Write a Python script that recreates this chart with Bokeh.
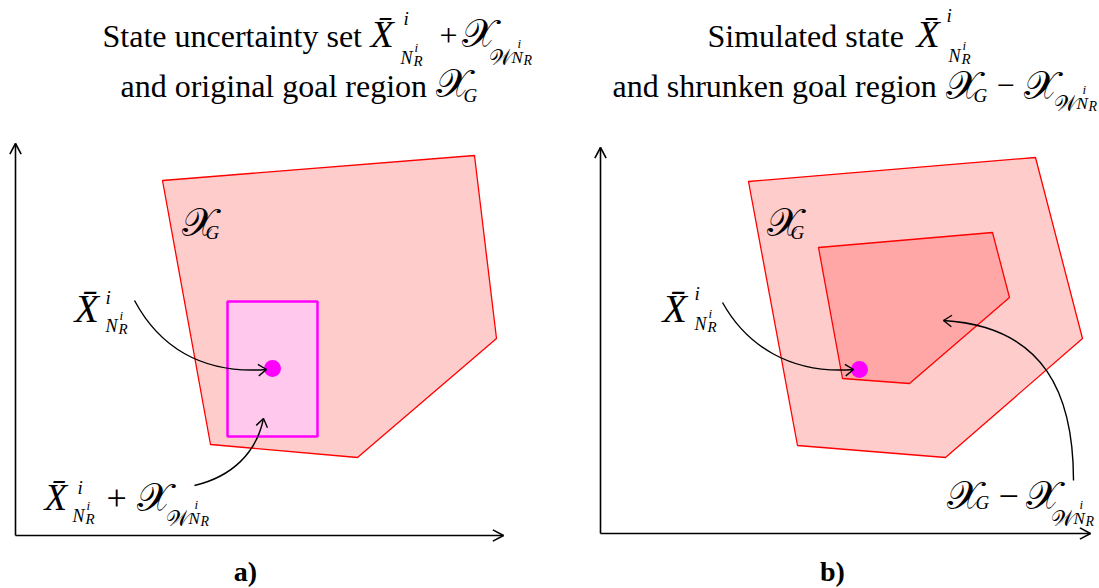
import numpy as np
from bokeh.plotting import figure
from bokeh.models import Range1d, ColumnDataSource
from bokeh.core.properties import value
from bokeh.embed import file_html
from bokeh.resources import INLINE

W, H = 1099, 588

# ---------------- data (pixel layout of the diagram) ----------------
panel_names = ["a)", "b)"]
panel_label_x = [245, 832]
axis_x = [15, 600]          # vertical axis position
axis_y = [535, 533]         # horizontal axis position
axis_top = [143, 147]       # tip of vertical arrow
axis_right = [503, 1090]    # tip of horizontal arrow

goal_left_x = [162, 474, 496, 357, 210]
goal_left_y = [180, 155, 338, 457, 444]
goal_right_x = [748, 1035, 1082, 945, 797]
goal_right_y = [181, 157, 338, 457, 445]
shrunk_x = [818, 992, 1009, 909, 842]
shrunk_y = [247, 232, 297, 383, 378]

box_x = [227, 317]
box_y = [301, 436]
state_x = [272, 859]
state_y = [368, 369]

# curved arrows: start, control1, control2, end
curve_p0 = [(134, 300), (194, 485), (722, 302), (1073, 480)]
curve_c1 = [(158, 345), (232, 476), (746, 345), (1073, 395)]
curve_c2 = [(200, 374), (256, 452), (790, 374), (1045, 326)]
curve_p3 = [(266, 369), (263, 418), (853, 369), (943, 320)]

SERIF = "Liberation Serif"
SCRIPT = "Liberation Serif"

# ---------------- figure ----------------
p = figure(width=W, height=H, x_range=Range1d(0, W), y_range=Range1d(H, 0),
           output_backend="svg", toolbar_location=None, min_border=0)
p.axis.visible = False
p.grid.visible = False
p.outline_line_color = None
p.background_fill_color = "white"
p.border_fill_color = "white"

# polygons
p.patch(goal_left_x, goal_left_y, fill_color="#FFCCCC", line_color="#FF0000", line_width=1.3)
p.patch(goal_right_x, goal_right_y, fill_color="#FFCCCC", line_color="#FF0000", line_width=1.3)
p.patch(shrunk_x, shrunk_y, fill_color="#FFA6A6", line_color="#FF0000", line_width=1.3)
p.quad(left=[box_x[0]], right=[box_x[1]], top=[box_y[0]], bottom=[box_y[1]],
       fill_color="#FFC8EC", line_color="#FF00FF", line_width=2.5)
p.scatter(state_x, state_y, size=17, color="#FF00FF", line_color=None)

# axes with open arrow heads
def head(tip, d, L=12, ang=28):
    d = np.asarray(d, float); d = d / np.linalg.norm(d)
    out = []
    for s in (1, -1):
        a = np.radians(ang) * s
        r = np.array([d[0]*np.cos(a) - d[1]*np.sin(a), d[0]*np.sin(a) + d[1]*np.cos(a)])
        out.append(([tip[0], tip[0] - L*r[0]], [tip[1], tip[1] - L*r[1]]))
    return out

xs, ys = [], []
for i in range(2):
    xs.append([axis_x[i], axis_x[i]]); ys.append([axis_y[i], axis_top[i]])
    xs.append([axis_x[i], axis_right[i]]); ys.append([axis_y[i], axis_y[i]])
    for hx, hy in head((axis_x[i], axis_top[i]), (0, -1)):
        xs.append(hx); ys.append(hy)
    for hx, hy in head((axis_right[i], axis_y[i]), (1, 0)):
        xs.append(hx); ys.append(hy)
p.multi_line(xs, ys, line_color="black", line_width=1.6)

# curved arrows
p.bezier(x0=[c[0] for c in curve_p0], y0=[c[1] for c in curve_p0],
         x1=[c[0] for c in curve_p3], y1=[c[1] for c in curve_p3],
         cx0=[c[0] for c in curve_c1], cy0=[c[1] for c in curve_c1],
         cx1=[c[0] for c in curve_c2], cy1=[c[1] for c in curve_c2],
         line_color="black", line_width=1.4)
hxs, hys = [], []
for c2, p3 in zip(curve_c2, curve_p3):
    for hx, hy in head(p3, (p3[0]-c2[0], p3[1]-c2[1]), L=10, ang=35):
        hxs.append(hx); hys.append(hy)
p.multi_line(hxs, hys, line_color="black", line_width=1.4)

# ---------------- texts ----------------
pieces = dict(x=[], y=[], text=[], size=[], style=[], font=[])

def put(t, x, y, s, style="italic", font=SERIF):
    pieces["x"].append(x); pieces["y"].append(y); pieces["text"].append(t)
    pieces["size"].append(f"{s:.1f}px"); pieces["style"].append(style); pieces["font"].append(font)

def xbar(x, y, s, sup, sub):
    put("X\u0304", x, y, s)
    put("i", x + sup[0], y + sup[1], 19)
    put("N", x + sub[0], y + sub[1], 18)
    put("R", x + sub[0] + 13, y + sub[1] + 3, 15)
    put("i", x + sub[0] + 14, y + sub[1] - 10, 13)

def scr(x, y, s, sub, off):
    put("\U0001D4B3", x, y, s, "normal", SCRIPT)
    if sub == "G":
        put("G", x + off[0], y + off[1], 19)
    else:
        put("\U0001D4B2", x + off[0], y + off[1], 22, "normal", SCRIPT)
        put("i", x + off[0] + 29, y + off[1] - 14, 13)
        put("N", x + off[0] + 23, y + off[1], 17)
        put("R", x + off[0] + 35, y + off[1] + 3, 14)

T = 32
SX = 40
# left title
put("State uncertainty set", 102, 35, T, "normal")
xbar(370, 33, 38, sup=(33, -15), sub=(30, 24))
put("+", 439, 35, T, "normal")
scr(461, 33, SX, "W", off=(27, 24))
put("and original goal region", 120, 85, T, "normal")
scr(435, 83, SX, "G", off=(28, 12))
# right title
put("Simulated state", 707, 35, T, "normal")
xbar(916, 33, 38, sup=(30, -18), sub=(32, 22))
put("and shrunken goal region", 612, 85, T, "normal")
scr(945, 85, SX, "G", off=(28, 10))
put("\u2212", 996, 85, T, "normal")
scr(1023, 85, SX, "W", off=(30, 18))

# left panel labels
scr(181, 222, SX, "G", off=(24, 10))
xbar(74, 308, 40, sup=(31, -11), sub=(31, 17))
xbar(44, 497, 37, sup=(33, -10), sub=(28, 18))
put("+", 106, 497, 36, "normal")
scr(136, 497, SX, "W", off=(29, 21))
# right panel labels
scr(766, 222, SX, "G", off=(24, 10))
xbar(662, 308, 40, sup=(32, -15), sub=(32, 15))
scr(946, 495, SX, "G", off=(29, 7))
put("\u2212", 998, 495, 36, "normal")
scr(1025, 495, SX, "W", off=(25, 23))

src = ColumnDataSource(pieces)
p.text(x="x", y="y", text="text", source=src, text_font="font", text_font_size="size",
       text_font_style="style", text_color="black", text_baseline="alphabetic", text_align="left")

p.text(x=panel_label_x, y=[571, 571], text=panel_names, text_font=value(SERIF),
       text_font_size=value("28px"), text_font_style="bold", text_color="black",
       text_baseline="alphabetic", text_align="center")

open("out.html", "w").write(file_html(p, INLINE))
